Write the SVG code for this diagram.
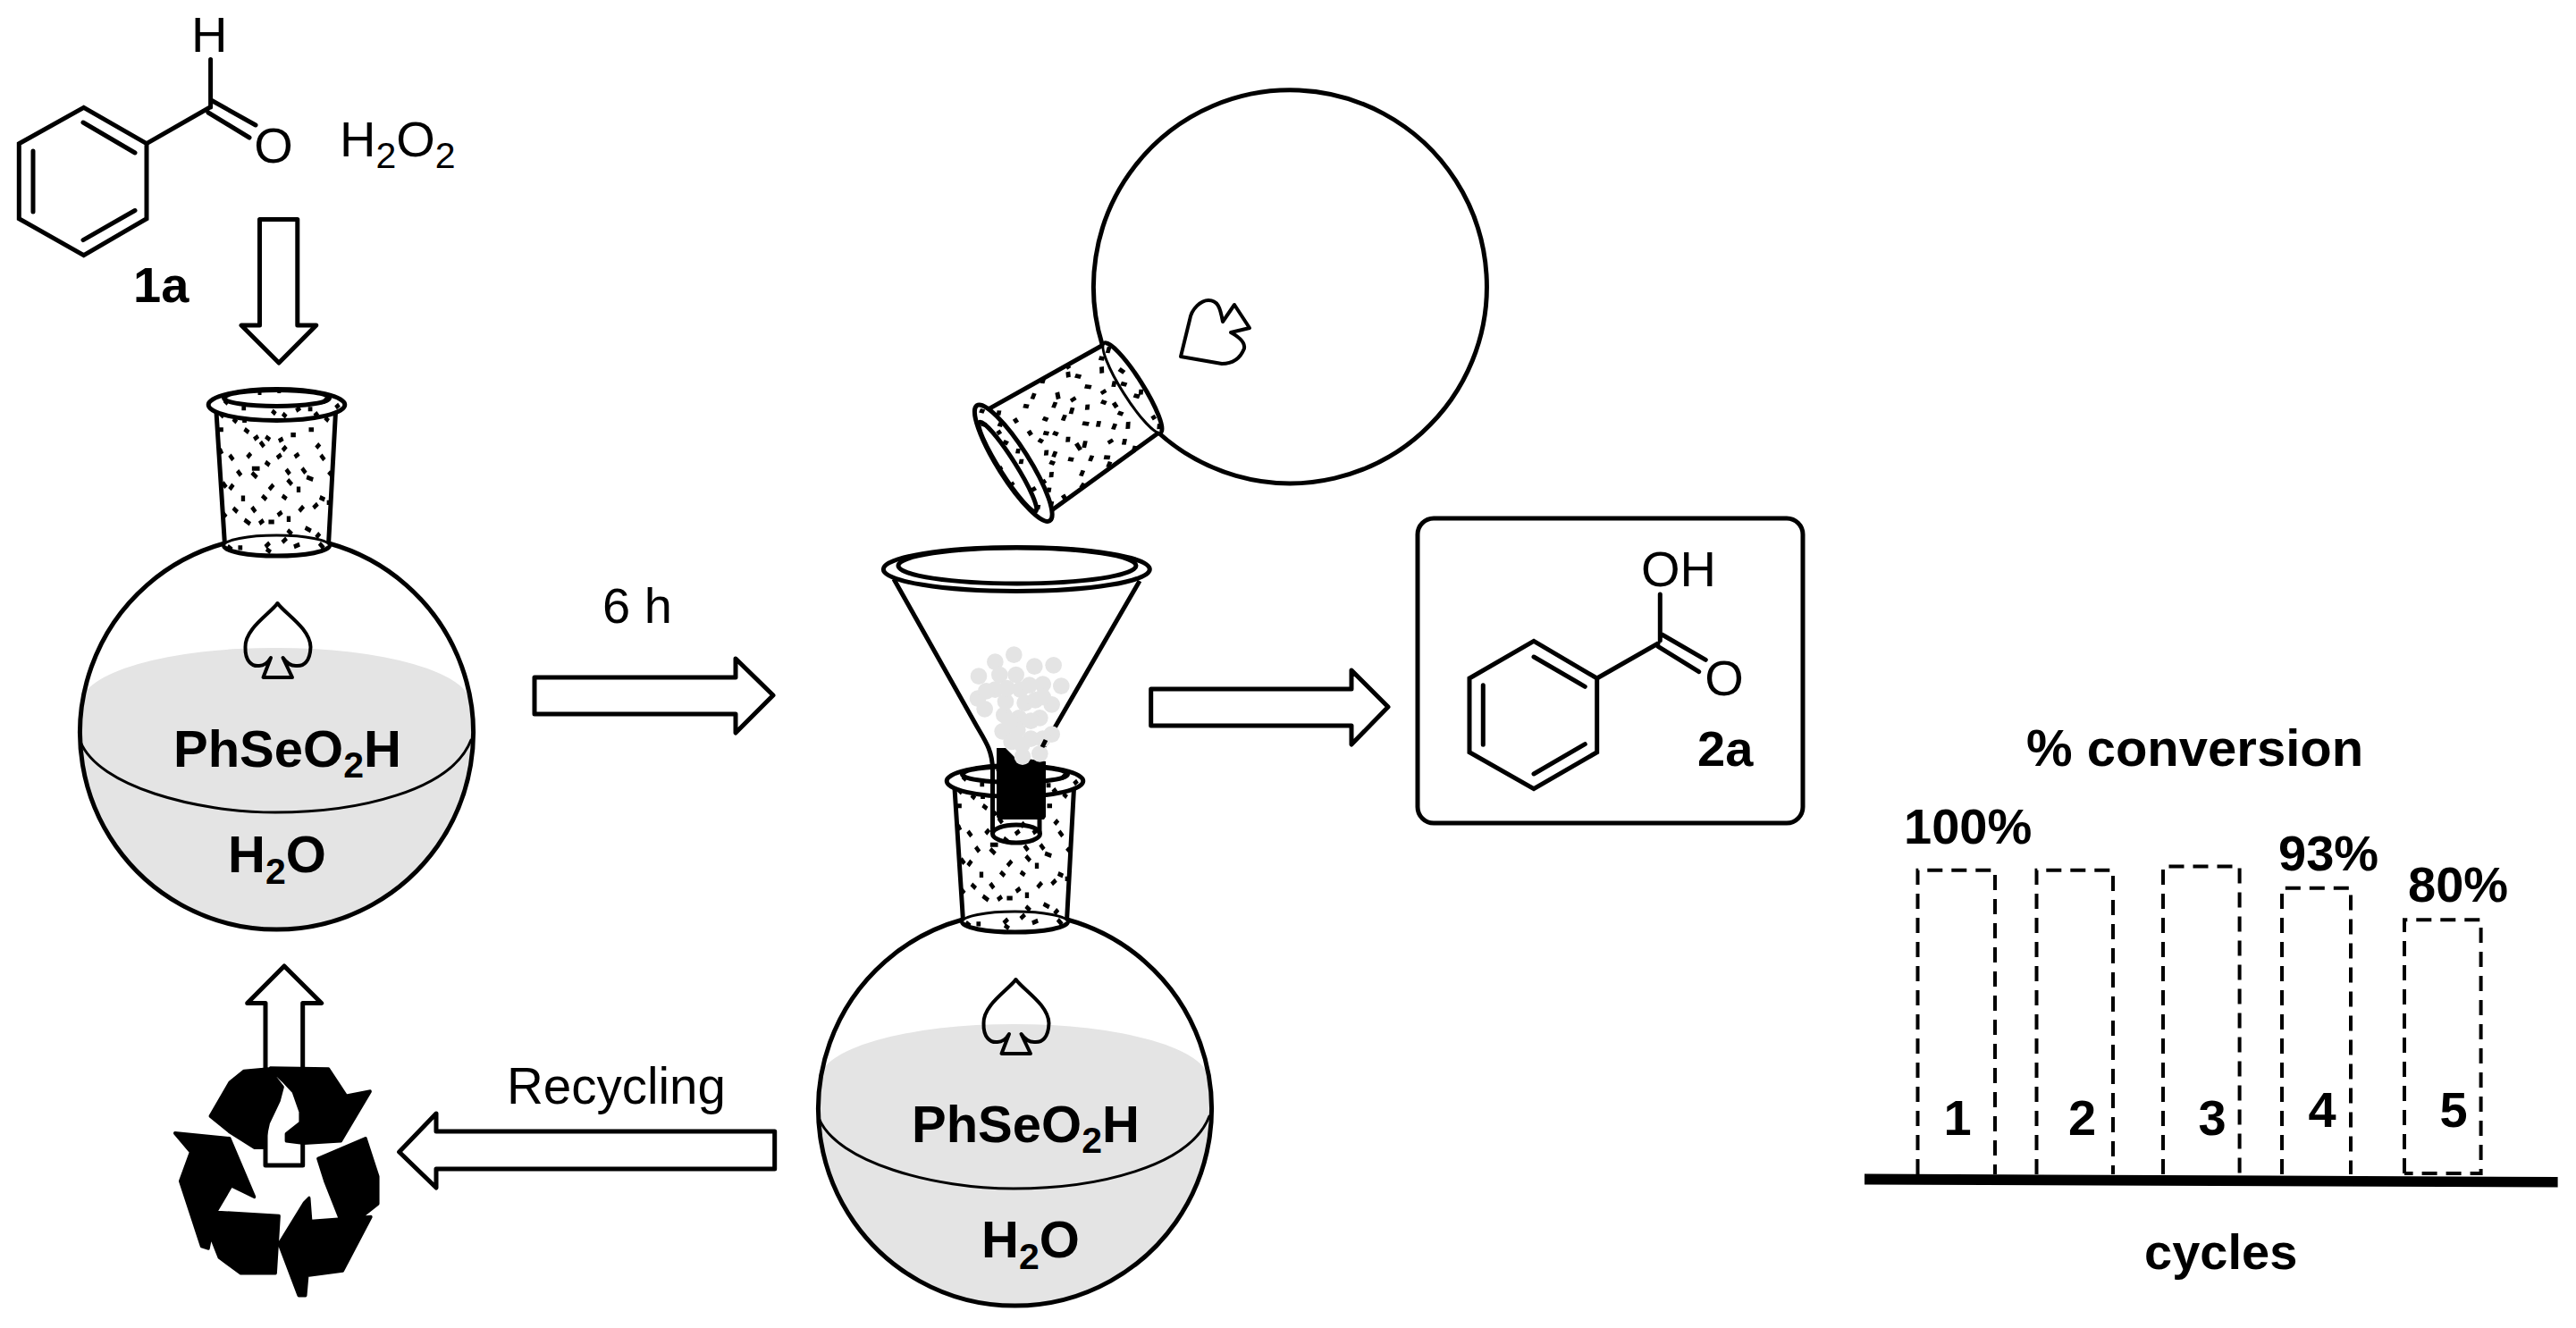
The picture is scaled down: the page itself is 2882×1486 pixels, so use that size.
<svg xmlns="http://www.w3.org/2000/svg" width="2882" height="1486" viewBox="0 0 2882 1486">
<style>
text{font-family:"Liberation Sans",Arial,sans-serif;font-size:56px;fill:#000}
.b{font-weight:700}
.bf{font-weight:700;font-size:58px}
.sub{font-size:41px}
.ln{fill:none;stroke:#000;stroke-width:5;stroke-linecap:butt;stroke-linejoin:miter}
.th{fill:none;stroke:#000;stroke-width:3;stroke-linecap:round}
.bond{fill:none;stroke:#000;stroke-width:5;stroke-linecap:round;stroke-linejoin:miter}
.arrow{fill:#fff;stroke:#000;stroke-width:5;stroke-linejoin:round}
.bar{fill:none;stroke:#000;stroke-width:4;stroke-dasharray:17 10}
.ball{fill:#e4e4e4}
</style>
<defs>
<g id="cork">
<path d="M242,461 L251.4,608 A59,11.5 0 0 0 367.6,608 L375.5,461 Z" fill="#fff" stroke="none"/>
<path class="ln" d="M242,461 L251.4,608 M375.5,461 L367.6,608"/>
<path class="th" d="M250.5,610.6 A59,11.5 0 0 1 368.5,610.6"/>
<path class="ln" d="M250.5,610.6 A59,11.5 0 0 0 368.5,610.6"/>
<ellipse class="ln" cx="309.5" cy="453" rx="76.3" ry="17.5"/>
<ellipse class="ln" cx="309.5" cy="445.4" rx="59" ry="9"/>
<path transform="scale(.3953 .4591)" fill="none" stroke="#000" stroke-width="11" d="M684 995h12M770 1001l10 8M800 1008l10 8M838 1001l12-7M872 997h12M890 1014l10-8M920 1018l10 8M660 1021l10 8M686 1025h12M623 1008l10 8M635 976l10 8M730 957h10M785 953h10M915 980l10-8M950 994l10-8M620 1047h12M692 1046l12 8M719 1071l12-8M752 1064l12 8M789 1075l12-6M737 1077l10 12M823 1060h14M874 1047h14M895 1092l10-10M800 1098l10-10M784 1116l12-8M834 1114l12-8M908 1109l10 12M650 1109l10 12M700 1115l10-10M713 1142h22M713 1152l14 12M751 1126l12 8M672 1147l10 12M810 1144l10 12M855 1141l10 12M868 1163l18 6M930 1150l10 10M814 1169l12 12M845 1186v14M762 1193l12-12M650 1193l10-12M630 1176l10 12M622 1094l6 12M688 1208v14M742 1208l12 10M799 1208l12 8M905 1212l14 6M887 1238l12-10M847 1246l12-12M925 1225h12M630 1250l10 10M660 1238l12 10M713 1236l10 12M786 1256l12-8M692 1267l16 10M734 1276l12-8M760 1272h16M817 1258v14M814 1292l12 10M864 1286l16 8M895 1310l10-10M751 1333l12-10M799 1322l12-10M832 1333l16-6M904 1324l12 12M674 1335h12M644 1331l12 8M754 1338l12 8"/>
</g>
<g id="flask">
<path d="M91,787 A217,62 0 0 1 526,787 A220,220 0 1 1 91,787 Z" fill="#e4e4e4"/>
<path class="th" d="M90,830 C110,880 220,909 308,909 C400,909 505,885 527,828"/>
<path class="ln" d="M368,608 A220,220 0 1 1 251,608"/>
<path d="M310.5,675 C303,686 274,703 274.5,724 C274,740 282,746 290,745 C296,745 300,741 303,736 L294.5,758 H327 L316.5,736 C320,741 325,745 331,745 C340,746 347,740 347.5,724 C347,703 318,686 310.5,675 Z" fill="none" stroke="#000" stroke-width="4" stroke-linejoin="round"/>
</g>
</defs>
<rect width="2882" height="1486" fill="#fff"/>

<g id="connectors">
<path class="arrow" d="M290.5,245.6 H332.8 V364 H353.8 L312,406 L270,364 H290.5 Z"/>
<path class="arrow" d="M598,758 H823 V737 L865,778 L823,820 V799 H598 Z"/>
<path class="arrow" d="M1287.7,771 H1512 V750 L1553,791 L1512,833 V812 H1287.7 Z"/>
<path class="arrow" d="M866.7,1266 H488 V1246 L446.6,1289 L488,1329 V1308 H866.7 Z"/>
<path class="arrow" d="M297,1304 V1122.6 H276.7 L318,1081 L359.7,1122.6 H338.7 V1304 Z"/>
</g>

<g id="benzaldehyde">
<path class="bond" d="M21.3,160.7 L93.7,120.3 L164,160.7 V244.7 L93.7,285.6 L21.3,244.7 Z"/>
<path class="bond" d="M37,169 V237 M93,137 L151,171 M93,268.6 L151,235.5 M164,160.7 L235,120 M235.6,66.6 V120 M233,126 L279,154 M237,112.5 L286,140"/>
<text x="214" y="58">H</text>
<text x="306" y="182" text-anchor="middle">O</text>
<text x="380" y="174.5">H<tspan class="sub" dy="13.5">2</tspan><tspan dy="-13.5">O</tspan><tspan class="sub" dy="13.5">2</tspan></text>
<text class="b" x="149" y="337.5">1a</text>
</g>

<g id="reaction-flask">
<use href="#flask"/>
<use href="#cork"/>
<text class="bf" x="194" y="858">PhSeO<tspan class="sub" dy="11.5">2</tspan><tspan dy="-11.5">H</tspan></text>
<text class="bf" x="255" y="975.7">H<tspan class="sub" dy="13">2</tspan><tspan dy="-13">O</tspan></text>
</g>

<g id="recycle-symbol">
<path transform="translate(0,700) scale(.3953,.5013)" fill="#000" stroke="#000" stroke-width="8" stroke-linejoin="round" d="M595 1095L650 1020L690 995L760 990L800 1030L790 1060L760 1110L745 1165L720 1165L650 1130ZM765 988L930 990L980 1050L1048 1040L965 1150L860 1155L810 1150L810 1135L850 1110L850 1085L830 1040L800 1015ZM900 1190L1035 1145L1070 1230L1070 1290L1030 1315L960 1320L920 1240ZM875 1278L880 1330L1050 1320L970 1440L870 1450L865 1495L845 1495L790 1380L860 1290ZM615 1310L790 1318L780 1445L680 1445L620 1410L600 1370ZM495 1133L650 1145L720 1275L655 1250L610 1310L590 1390L570 1385L510 1240L540 1175Z"/>
</g>

<g id="tilted-flask">
<path class="ln" d="M1233,385 A220,220 0 1 1 1297,485"/>
<path d="M1321,399 L1331,358 C1333,345 1344,336 1352,336 C1362,336 1365,343 1368,360 L1381,341 L1398,367 L1377,372 C1388,378 1393,384 1392,390 C1388,400 1380,407 1367,407 Z" fill="none" stroke="#000" stroke-width="4" stroke-linejoin="round"/>
<use href="#cork" transform="translate(1267,434) rotate(-122.3) translate(-309.5,-610.6)"/>
</g>

<g id="collection-flask">
<use href="#flask" transform="translate(826,421)"/>
<use href="#cork" transform="translate(826,421)"/>
<text class="bf" x="1020" y="1278">PhSeO<tspan class="sub" dy="11.5">2</tspan><tspan dy="-11.5">H</tspan></text>
<text class="bf" x="1098" y="1406.7">H<tspan class="sub" dy="13">2</tspan><tspan dy="-13">O</tspan></text>
</g>

<g id="funnel">
<path d="M1115,837 H1125 L1135,847 L1170,852 V914 L1168,917 H1117 L1115,914 Z" fill="#000"/>
<path class="ln" d="M1000,648 L1093,813 C1103,830 1110,840 1110.5,860 V933 M1275,650 L1168,835 M1163,917 V933"/>
<ellipse class="ln" cx="1137" cy="933" rx="26.5" ry="10"/>
<ellipse class="ln" cx="1137.3" cy="637" rx="149" ry="24.5"/>
<ellipse class="ln" cx="1138" cy="633" rx="133" ry="20"/>
<g transform="translate(950,600) scale(.33333)" class="ball">
<circle cx="553" cy="398" r="28"/><circle cx="490" cy="422" r="28"/><circle cx="435" cy="470" r="28"/><circle cx="622" cy="437" r="28"/><circle cx="686" cy="433" r="28"/><circle cx="712" cy="503" r="28"/><circle cx="560" cy="465" r="28"/><circle cx="650" cy="497" r="28"/><circle cx="432" cy="545" r="28"/><circle cx="455" cy="580" r="28"/><circle cx="505" cy="465" r="28"/><circle cx="490" cy="515" r="28"/><circle cx="575" cy="515" r="28"/><circle cx="605" cy="500" r="28"/><circle cx="590" cy="560" r="28"/><circle cx="680" cy="565" r="28"/><circle cx="640" cy="610" r="28"/><circle cx="515" cy="655" r="28"/><circle cx="545" cy="690" r="28"/><circle cx="610" cy="680" r="28"/><circle cx="680" cy="665" r="28"/><circle cx="640" cy="730" r="28"/><circle cx="582" cy="740" r="28"/><circle cx="520" cy="600" r="28"/><circle cx="570" cy="610" r="28"/><circle cx="525" cy="555" r="28"/><circle cx="625" cy="550" r="28"/><circle cx="565" cy="650" r="28"/><circle cx="460" cy="520" r="28"/><circle cx="610" cy="620" r="28"/><circle cx="530" cy="510" r="28"/><circle cx="650" cy="540" r="28"/><circle cx="580" cy="700" r="28"/><circle cx="650" cy="680" r="28"/><circle cx="540" cy="620" r="28"/>
</g>
<path d="M1170,828 l-4,8" stroke="#000" stroke-width="5" fill="none"/>
</g>

<g id="product">
<rect class="ln" x="1586" y="580" width="431" height="341" rx="18"/>
<path class="bond" d="M1716,717.3 L1786.7,759 V841.7 L1716,882.7 L1644,841.7 V759 Z"/>
<path class="bond" d="M1659.3,766.7 V833.3 M1716,735 L1773.3,768.3 M1716,866 L1773.3,832.7 M1786.7,759 L1855,720 M1857.3,665 V716.7 M1855,723.3 L1900.7,751.7 M1859.3,710 L1908.3,738.3"/>
<text x="1836" y="655.7">OH</text>
<text x="1929" y="778" text-anchor="middle">O</text>
<text class="b" x="1899" y="856.7">2a</text>
</g>

<g id="chart">
<text class="b" x="2267" y="857" style="font-size:58px">% conversion</text>
<path class="bar" d="M2145.5,1314 V973.8 H2232 V1314"/>
<path class="bar" d="M2278.5,1314 V973.8 H2364 V1314"/>
<path class="bar" d="M2420,1314 V969.5 H2505.6 V1314"/>
<path class="bar" d="M2553,1314 V993.8 H2630 V1314"/>
<path class="bar" d="M2690,1313 V1029.3 H2775.6 V1313 H2690"/>
<polygon points="2086,1313.5 2861.6,1317 2861.6,1328.5 2086,1325.5" fill="#000"/>
<text class="b" x="2130" y="944">100%</text>
<text class="b" x="2549" y="973.8">93%</text>
<text class="b" x="2694" y="1008.5">80%</text>
<text class="b" x="2190" y="1270" text-anchor="middle">1</text>
<text class="b" x="2329.6" y="1270" text-anchor="middle">2</text>
<text class="b" x="2475" y="1270" text-anchor="middle">3</text>
<text class="b" x="2598" y="1260.5" text-anchor="middle">4</text>
<text class="b" x="2745" y="1260.5" text-anchor="middle">5</text>
<text class="b" x="2399" y="1419.6">cycles</text>
</g>

<text id="label-time" x="674" y="696.7">6 h</text>
<text id="label-recycling" x="567" y="1235" style="font-size:56.5px">Recycling</text>
</svg>
